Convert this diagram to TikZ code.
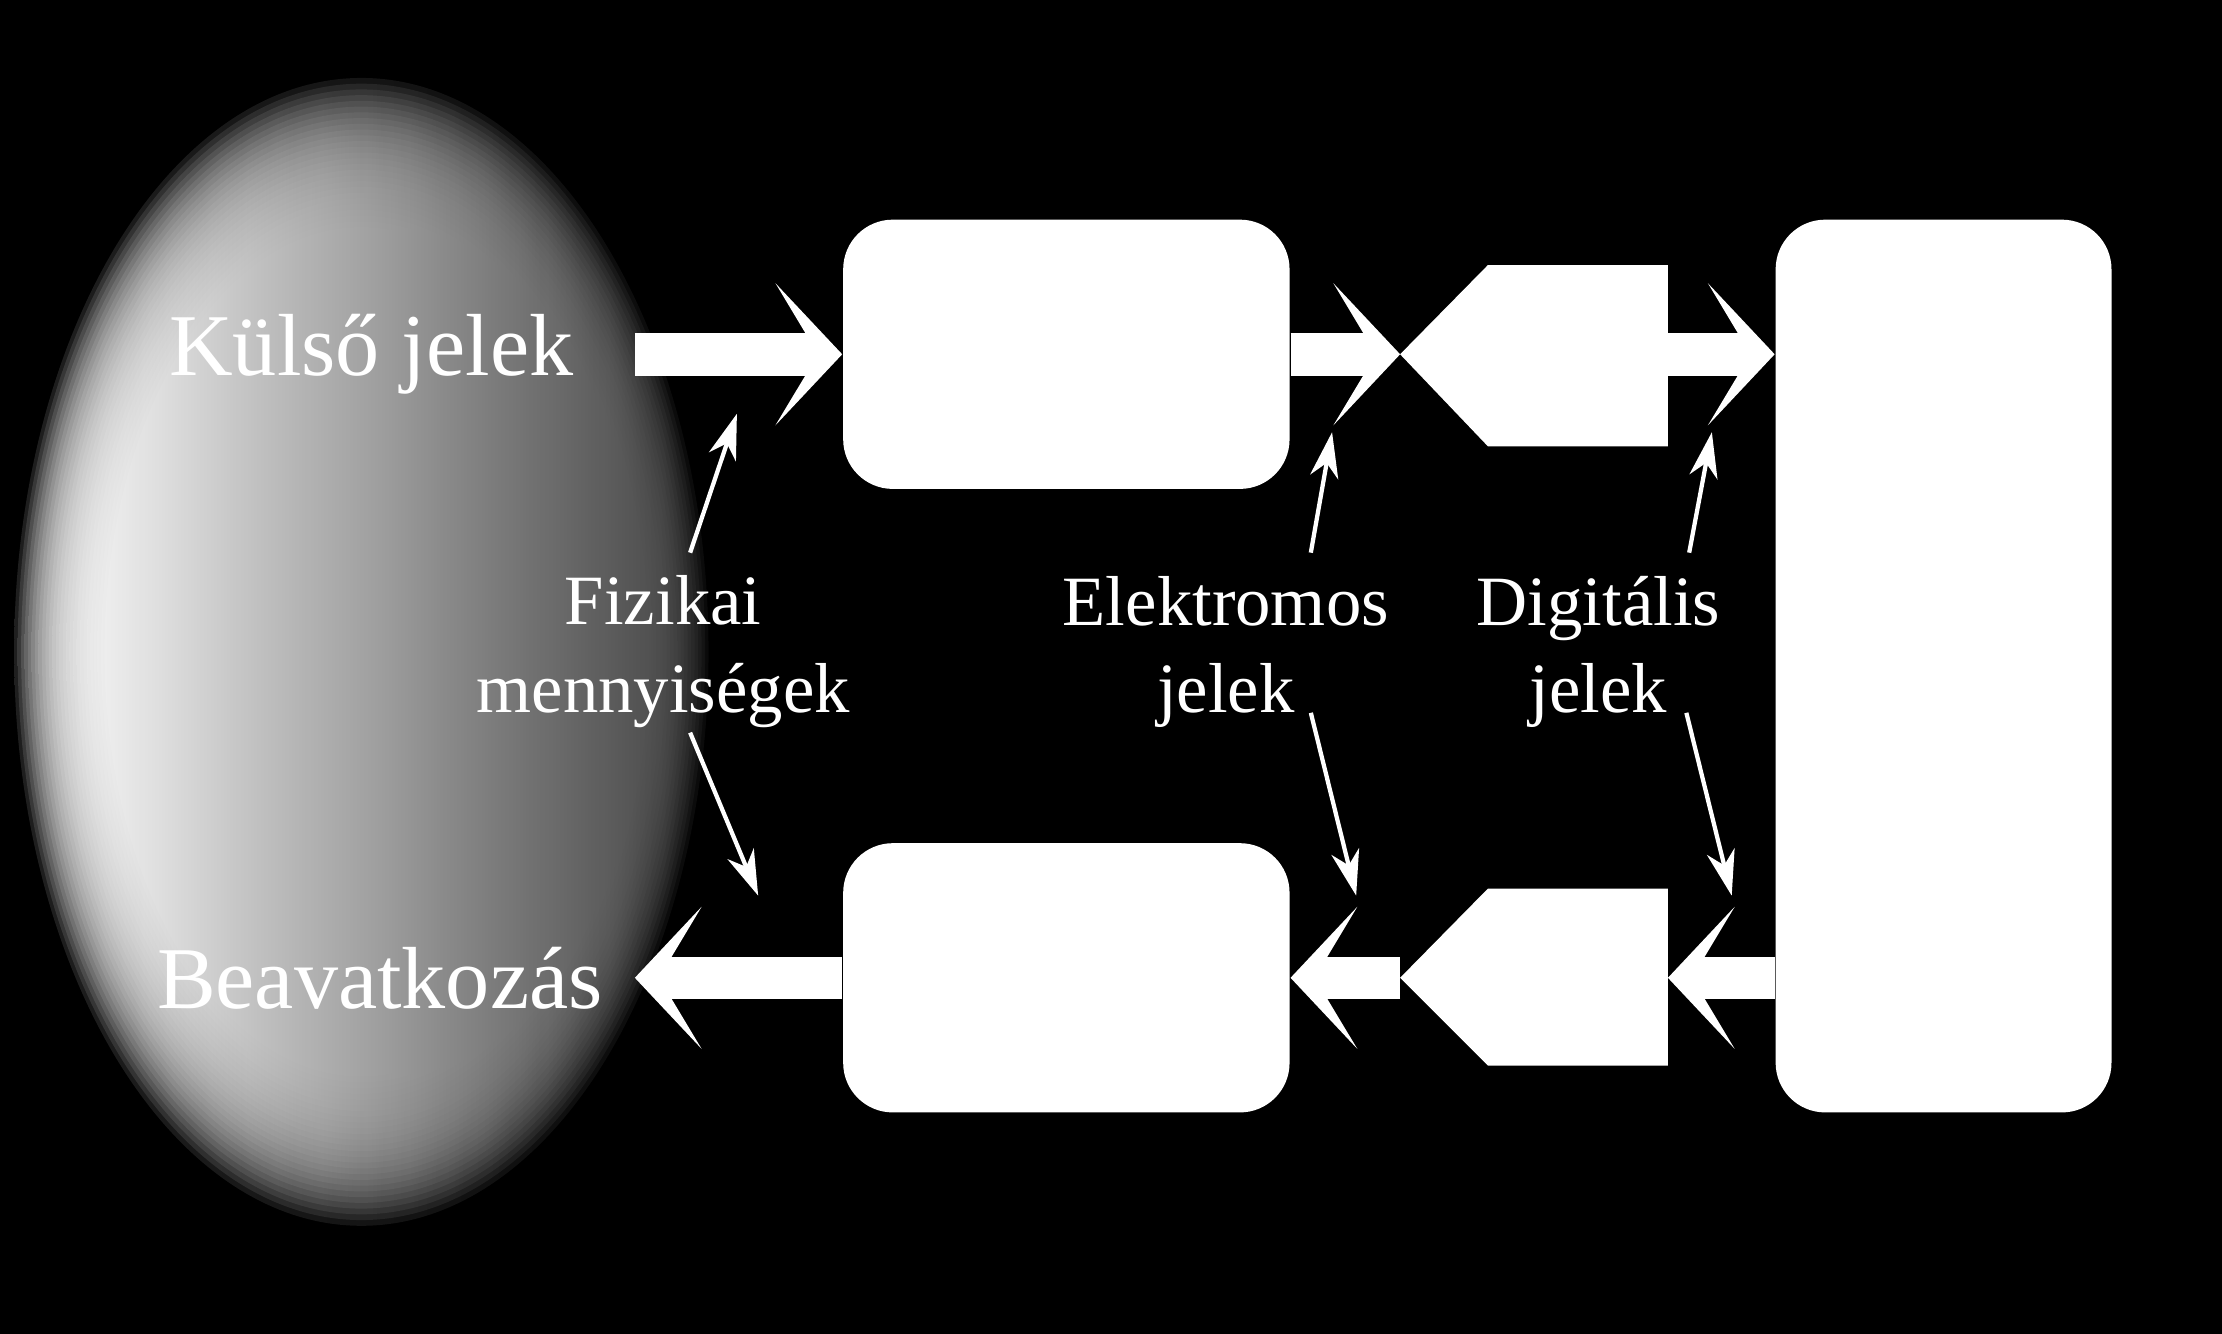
\documentclass[tikz,border=0pt]{standalone}
\usepackage{fontspec}
\setmainfont{Liberation Serif}
\usepackage{tikz}
\usetikzlibrary{arrows.meta, positioning}
\tikzset{
    blok/.style={fill=white, rounded corners=0.35cm, inner sep=0pt},
    nagy/.style={white, line width=0.3cm, -{Stealth[length=0.47cm, width=1.0cm, inset=0.3cm]}},
    kis/.style={white, line width=0.03cm, -{Stealth[length=0.32cm, width=0.2cm, inset=0.1cm]}},
    felirat/.style={text=white, font=\fontsize{14.2}{17.6}\selectfont, align=center, inner sep=0pt},
    fofelirat/.style={text=white, font=\fontsize{17.7}{21}\selectfont, inner sep=0pt},
}
\begin{document}
\begin{tikzpicture}[x=1cm, y=-1cm]
    \fill[black] (0,0) rectangle (15.68,9.41);
    \useasboundingbox (0,0) rectangle (15.68,9.41);

    % kulso kornyezet, puha szellel
    \foreach \s in {1.00,0.99,...,0.74}
        \shade[left color=white, right color=black!65, opacity=0.12]
            (2.55,4.6) ellipse [x radius=2.45*\s, y radius=4.05*\s];

    % blokkok
    \node[blok, minimum width=3.15cm, minimum height=1.9cm] (erz) at (7.525,2.5) {};
    \node[blok, minimum width=3.15cm, minimum height=1.9cm] (bea) at (7.525,6.9) {};
    \node[blok, minimum width=2.37cm, minimum height=6.3cm] (proc) at (13.715,4.7) {};

    % AD es DA atalakito
    \coordinate (adL) at (9.88,2.5);
    \coordinate (adR) at (11.77,2.5);
    \fill[white] (adL) -- (10.5,1.87) -- (11.77,1.87) -- (11.77,3.15) -- (10.5,3.15) -- cycle;
    \coordinate (daL) at (9.88,6.9);
    \coordinate (daR) at (11.77,6.9);
    \fill[white] (daL) -- (10.5,6.27) -- (11.77,6.27) -- (11.77,7.52) -- (10.5,7.52) -- cycle;

    % feliratok
    \node[fofelirat] (kulso) at (2.62,2.5) {Külső jelek};
    \node[fofelirat] (beav) at (2.68,6.9) {Beavatkozás};
    \coordinate (kulsoR) at (4.48,2.5);
    \coordinate (beavR) at (4.48,6.9);
    \node[felirat] (fiz) at (4.68,4.6) {Fizikai\\mennyiségek};
    \node[felirat] (elek) at (8.65,4.6) {Elektromos\\jelek};
    \node[felirat] (dig) at (11.28,4.6) {Digitális\\jelek};

    % fo jelutak
    \draw[nagy] (kulsoR) -- (erz.west);
    \draw[nagy] (erz.east) -- (adL);
    \draw[nagy] (adR) -- (proc.west |- adR);
    \draw[nagy] (proc.west |- daR) -- (daR);
    \draw[nagy] (daL) -- (bea.east);
    \draw[nagy] (bea.west) -- (beavR);

    % mutato nyilak
    \draw[kis] (4.87,3.9) -- (5.2,2.92);
    \draw[kis] (4.87,5.17) -- (5.35,6.32);
    \draw[kis] (9.25,3.9) -- (9.4,3.05);
    \draw[kis] (9.25,5.03) -- (9.57,6.32);
    \draw[kis] (11.92,3.9) -- (12.08,3.05);
    \draw[kis] (11.9,5.03) -- (12.22,6.32);
\end{tikzpicture}
\end{document}
